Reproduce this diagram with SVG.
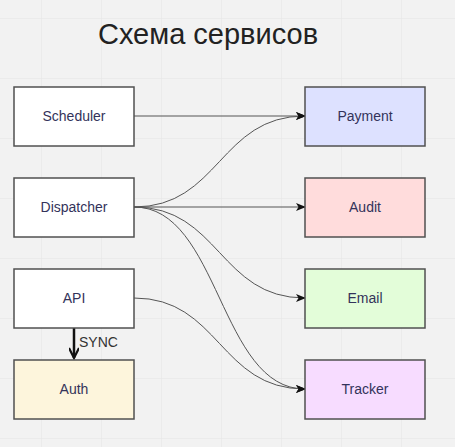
<svg xmlns="http://www.w3.org/2000/svg" width="455" height="447" viewBox="0 0 455 447">
<defs>
<pattern id="grid" x="-18" y="-41" width="60" height="60" patternUnits="userSpaceOnUse">
<path d="M60 0V60M0 60H60" fill="none" stroke="#e5e5e5" stroke-width="1"/>
</pattern>
<marker id="arr" markerWidth="10" markerHeight="8" refX="9" refY="4" orient="auto" markerUnits="userSpaceOnUse">
<path d="M0,0 L10,4 L0,8 L2.5,4 Z" fill="#111"/>
</marker>
<marker id="open" markerWidth="14" markerHeight="10" refX="12" refY="5" orient="auto" markerUnits="userSpaceOnUse">
<path d="M2,0 L12,5 L2,10" fill="none" stroke="#111" stroke-width="2.2"/>
</marker>
</defs>
<style>
.box{stroke:#505050;stroke-width:1.5}
.lbl{font-family:"Liberation Sans",Arial,sans-serif;font-size:14px;fill:#33335a;text-anchor:middle}
.edge{fill:none;stroke:#555;stroke-width:1;marker-end:url(#arr)}
</style>
<rect width="455" height="447" fill="#f2f2f2"/>
<rect width="455" height="447" fill="url(#grid)"/>
<text x="208" y="44" font-family="'Liberation Sans',Arial,sans-serif" font-size="29" fill="#222" text-anchor="middle">Схема сервисов</text>
<g id="connectors">
<path class="edge" d="M134,116 L305,116"/>
<path class="edge" d="M134,207 C219.5,207 219.5,116 305,116"/>
<path class="edge" d="M134,207 L305,207"/>
<path class="edge" d="M134,207 C219.5,207 219.5,298 305,298"/>
<path class="edge" d="M134,207 C219.5,207 219.5,389 305,389"/>
<path class="edge" d="M134,298 C219.5,298 219.5,389 305,389"/>
<path d="M74,328 L74,358" fill="none" stroke="#111" stroke-width="2.5" marker-end="url(#open)"/>
<text x="79" y="347" font-family="'Liberation Sans',Arial,sans-serif" font-size="14" fill="#333">SYNC</text>
</g>
<g id="scheduler"><rect class="box" x="14" y="87" width="120" height="59" fill="#ffffff"/><text class="lbl" x="74" y="121">Scheduler</text></g>
<g id="dispatcher"><rect class="box" x="14" y="178" width="120" height="59" fill="#ffffff"/><text class="lbl" x="74" y="212">Dispatcher</text></g>
<g id="api"><rect class="box" x="14" y="269" width="120" height="59" fill="#ffffff"/><text class="lbl" x="74" y="303">API</text></g>
<g id="auth"><rect class="box" x="14" y="360" width="120" height="59" fill="#fdf5dc"/><text class="lbl" x="74" y="394">Auth</text></g>
<g id="payment"><rect class="box" x="305" y="87" width="120" height="59" fill="#dde1ff"/><text class="lbl" x="365" y="121">Payment</text></g>
<g id="audit"><rect class="box" x="305" y="178" width="120" height="59" fill="#ffdcdc"/><text class="lbl" x="365" y="212">Audit</text></g>
<g id="email"><rect class="box" x="305" y="269" width="120" height="59" fill="#e3fdd9"/><text class="lbl" x="365" y="303">Email</text></g>
<g id="tracker"><rect class="box" x="305" y="360" width="120" height="59" fill="#f7dcff"/><text class="lbl" x="365" y="394">Tracker</text></g>
</svg>
